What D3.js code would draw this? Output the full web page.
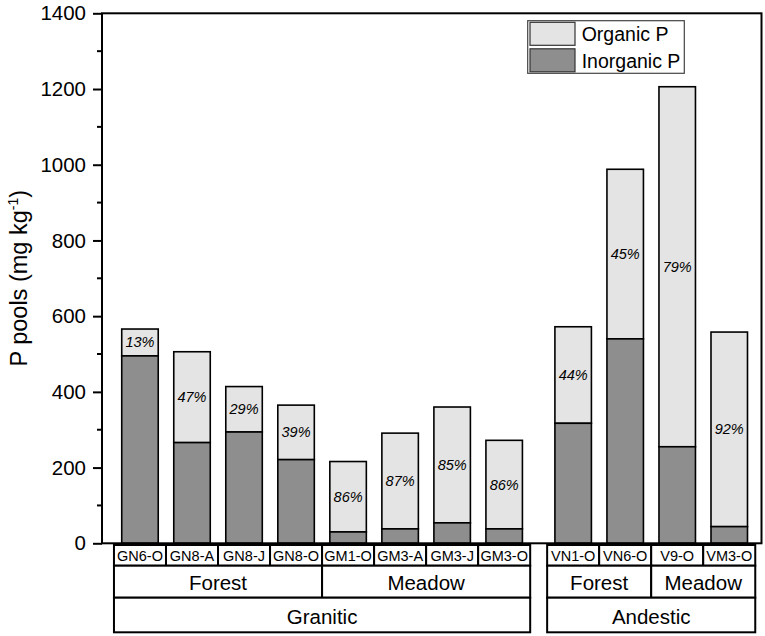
<!DOCTYPE html>
<html>
<head>
<meta charset="utf-8">
<script src="https://cdn.jsdelivr.net/npm/d3@7"></script>
<style>
  html, body { margin: 0; padding: 0; background: #fff; }
  svg { display: block; font-family: "Liberation Sans", Arial, sans-serif; }
</style>
</head>
<body>
<svg id="chart" width="765" height="636"></svg>
<script>
// ---- data ----
const samples = ["GN6-O","GN8-A","GN8-J","GN8-O","GM1-O","GM3-A","GM3-J","GM3-O","VN1-O","VN6-O","V9-O","VM3-O"];
const inorganicP = [495, 266, 294, 221, 30, 38, 54, 38, 317, 540, 255, 44];
const organicP   = [71, 240, 120, 144, 186, 253, 306, 234, 255, 448, 951, 514];
const percentLabels = ["13%","47%","29%","39%","86%","87%","85%","86%","44%","45%","79%","92%"];
const vegetation = ["Forest","Forest","Forest","Forest","Meadow","Meadow","Meadow","Meadow","Forest","Forest","Meadow","Meadow"];
const parent = ["Granitic","Granitic","Granitic","Granitic","Granitic","Granitic","Granitic","Granitic","Andestic","Andestic","Andestic","Andestic"];
const yTicks = [0, 200, 400, 600, 800, 1000, 1200, 1400];
const seriesNames = ["Organic P", "Inorganic P"];

// ---- layout ----
const svg = d3.select("#chart");
const L = 102, R = 761.5, T = 13.3, B = 543.3;
const groupGap = 0.326;
const parentOrder = Array.from(new Set(parent));
const pos = samples.map((s, i) => i + parentOrder.indexOf(parent[i]) * groupGap);

const x = d3.scaleLinear().domain([-0.73, 11 + groupGap + 0.62]).range([L, R]);
const step = x(1) - x(0);
const barW = 36.5;
const y = d3.scaleLinear().domain([0, 1400]).range([B, T]);

const cOrg = "#e4e4e4", cInorg = "#8e8e8e";

// bars
const g = svg.append("g");
samples.forEach((s, i) => {
  const cx = x(pos[i]);
  const tot = inorganicP[i] + organicP[i];
  g.append("rect").attr("x", cx - barW/2).attr("y", y(tot))
    .attr("width", barW).attr("height", y(inorganicP[i]) - y(tot))
    .attr("fill", cOrg).attr("stroke", "#000").attr("stroke-width", 1.6);
  g.append("rect").attr("x", cx - barW/2).attr("y", y(inorganicP[i]))
    .attr("width", barW).attr("height", y(0) - y(inorganicP[i]))
    .attr("fill", cInorg).attr("stroke", "#000").attr("stroke-width", 1.6);
  g.append("text").attr("x", cx).attr("y", (y(tot) + y(inorganicP[i])) / 2)
    .attr("text-anchor", "middle").attr("dominant-baseline", "central")
    .attr("font-size", 14.5).attr("font-style", "italic").text(percentLabels[i]);
});

// frame
svg.append("rect").attr("x", L).attr("y", T).attr("width", R - L).attr("height", B - T)
  .attr("fill", "none").attr("stroke", "#000").attr("stroke-width", 2);

// y axis
const yAxis = d3.axisLeft(y).tickValues(yTicks).tickSize(9).tickPadding(7).tickFormat(d3.format("d"));
const ya = svg.append("g").attr("transform", `translate(${L},0)`).call(yAxis);
ya.select(".domain").remove();
ya.selectAll(".tick line").attr("stroke-width", 2);
ya.selectAll(".tick text").attr("font-size", 20.5).attr("font-family", "'Liberation Sans', Arial, sans-serif").attr("fill", "#000");
const minor = d3.range(100, 1400, 200);
svg.append("g").selectAll("line").data(minor).join("line")
  .attr("x1", L - 5).attr("x2", L).attr("y1", d => y(d)).attr("y2", d => y(d))
  .attr("stroke", "#000").attr("stroke-width", 2);

// y title
const yt = svg.append("text").attr("transform", `translate(27,${(T + B) / 2}) rotate(-90)`)
  .attr("text-anchor", "middle").attr("font-size", 23.5);
yt.append("tspan").text("P pools (mg kg");
yt.append("tspan").attr("font-size", 14).attr("dy", -9).text("-1");
yt.append("tspan").attr("dy", 9).text(")");

// category label boxes
const rowY = [545, 565.7, 597.7, 632.3];
const lab = svg.append("g");
function box(x0, x1, r, txt, fs) {
  lab.append("rect").attr("x", x0).attr("y", rowY[r]).attr("width", x1 - x0).attr("height", rowY[r+1] - rowY[r])
    .attr("fill", "#fff").attr("stroke", "#000").attr("stroke-width", 2);
  lab.append("text").attr("x", (x0 + x1) / 2).attr("y", (rowY[r] + rowY[r+1]) / 2 + 1)
    .attr("text-anchor", "middle").attr("dominant-baseline", "central").attr("font-size", fs).text(txt);
}
samples.forEach((s, i) => box(x(pos[i]) - step/2, x(pos[i]) + step/2, 0, s, 14.5));
function spans(keyFn) {
  const out = [];
  samples.forEach((s, i) => {
    const k = keyFn(i);
    const last = out[out.length - 1];
    if (last && last.k === k) last.end = i; else out.push({k, start: i, end: i});
  });
  return out;
}
spans(i => parent[i] + "|" + vegetation[i]).forEach(sp =>
  box(x(pos[sp.start]) - step/2, x(pos[sp.end]) + step/2, 1, sp.k.split("|")[1], 20.5));
spans(i => parent[i]).forEach(sp =>
  box(x(pos[sp.start]) - step/2, x(pos[sp.end]) + step/2, 2, sp.k, 20.5));

// legend
const lg = svg.append("g");
lg.append("rect").attr("x", 527.7).attr("y", 20.7).attr("width", 156.6).attr("height", 52.6)
  .attr("fill", "#fff").attr("stroke", "#444").attr("stroke-width", 1.2);
[cOrg, cInorg].forEach((c, i) => {
  const yy = 22.3 + i * 26.5;
  lg.append("rect").attr("x", 530).attr("y", yy).attr("width", 45).attr("height", 23)
    .attr("fill", c).attr("stroke", "#333").attr("stroke-width", 1.2);
  lg.append("text").attr("x", 581.7).attr("y", yy + 12).attr("dominant-baseline", "central")
    .attr("font-size", 19.5).text(seriesNames[i]);
});
</script>
</body>
</html>
